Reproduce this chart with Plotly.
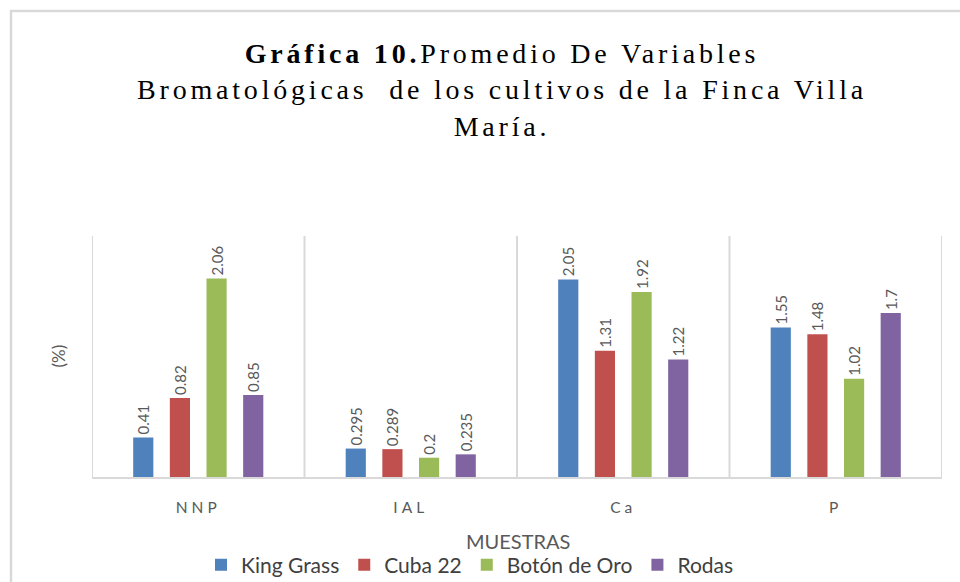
import plotly.graph_objects as go

categories = ["NNP", "IAL", "Ca", "P"]
series_names = ["King Grass", "Cuba 22", "Botón de Oro", "Rodas"]
king_grass = [0.41, 0.295, 2.05, 1.55]
cuba_22 = [0.82, 0.289, 1.31, 1.48]
boton_de_oro = [2.06, 0.2, 1.92, 1.02]
rodas = [0.85, 0.235, 1.22, 1.7]
label_king_grass = ["0.41", "0.295", "2.05", "1.55"]
label_cuba_22 = ["0.82", "0.289", "1.31", "1.48"]
label_boton = ["2.06", "0.2", "1.92", "1.02"]
label_rodas = ["0.85", "0.235", "1.22", "1.7"]

colors = ["#4F81BD", "#C0504D", "#9BBB59", "#8064A2"]
values = [king_grass, cuba_22, boton_de_oro, rodas]
labels = [label_king_grass, label_cuba_22, label_boton, label_rodas]

W, H = 960, 582
L, R, T, B = 92, 18, 236, 105
PW, PH = W - L - R, H - T - B
SANS = "Lato, Open Sans, sans-serif"

fig = go.Figure()
for name, vals, txt, col in zip(series_names, values, labels, colors):
    fig.add_trace(go.Bar(
        name=name, x=categories, y=vals, text=txt,
        textposition="outside", textangle=-90, cliponaxis=False, constraintext="none",
        textfont=dict(family=SANS, size=15, color="#595959"),
        marker=dict(color=col, line=dict(width=0)),
    ))

ls = "letter-spacing:3.8px"
title_text = (f'<span style="{ls}"><b>Gráfica 10.</b>Promedio De Variables</span><br>'
              f'<span style="{ls}">Bromatológicas  de los cultivos de la Finca Villa</span><br>'
              f'<span style="{ls}">María.</span>')

fig.update_layout(
    width=W, height=H,
    margin=dict(l=L, r=R, t=T, b=B, autoexpand=False),
    paper_bgcolor="white", plot_bgcolor="white",
    barmode="group", bargap=0.31, bargroupgap=0.45,
    showlegend=True,
    legend=dict(orientation="h", xref="container", x=470 / W, xanchor="center",
                yref="container", y=1 - 565 / H, yanchor="middle",
                font=dict(family=SANS, size=21, color="#404040"),
                itemwidth=30, traceorder="normal"),
    title=dict(
        text=title_text,
        x=502 / W, xanchor="center", xref="container",
        y=1 - 63 / H, yanchor="top", yref="container",
        font=dict(family="Liberation Serif, Times New Roman, serif", size=28, color="#000000"),
    ),
    font=dict(family=SANS),
)

tick_text = [f'<span style="letter-spacing:4px">{c}</span>' for c in categories]
fig.update_xaxes(
    showgrid=False, showline=True, linecolor="#D9D9D9", linewidth=2,
    ticks="", tickfont=dict(size=15.5, color="#595959"), ticklabelstandoff=15,
    tickmode="array", tickvals=categories, ticktext=tick_text,
    range=[-0.5, 3.5],
)
for i in range(5):
    fig.add_shape(type="line", xref="x", yref="paper", x0=i - 0.5, x1=i - 0.5, y0=0, y1=1,
                  line=dict(color="#D9D9D9", width=2), layer="below")
fig.update_yaxes(range=[0, 2.5], showgrid=False, showticklabels=False, zeroline=False, showline=False)

fig.add_annotation(text="(%)", xref="paper", yref="paper", x=(58 - L) / PW, y=0.5,
                   textangle=-90, showarrow=False, xanchor="center", yanchor="middle",
                   font=dict(size=17, color="#595959", family=SANS))
fig.add_annotation(text="MUESTRAS", xref="paper", yref="paper", x=(518 - L) / PW, y=(477 - 541) / PH,
                   showarrow=False, xanchor="center", yanchor="middle",
                   font=dict(size=20, color="#595959", family=SANS))

fig.add_shape(type="rect", xref="paper", yref="paper",
              x0=(11 - L) / PW, x1=(975 - L) / PW, y0=(477 - 600) / PH, y1=(477 - 11) / PH,
              line=dict(color="#D9D9D9", width=2.5), layer="below")

fig.write_html("out.html", config={"displayModeBar": False},
               post_script="document.body.style.margin='0px';")
